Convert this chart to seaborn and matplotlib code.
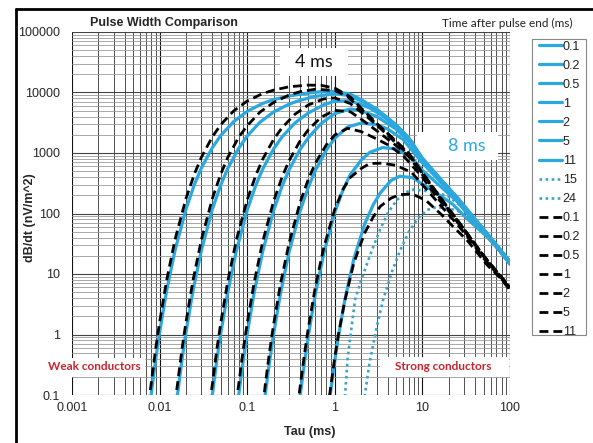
import matplotlib
matplotlib.use("Agg")
import matplotlib.pyplot as plt
import seaborn as sns
import numpy as np
from matplotlib.lines import Line2D
from matplotlib.patches import Rectangle
from matplotlib.ticker import LogLocator, NullFormatter

sns.set_style("white")
plt.rcParams['font.family'] = ['Liberation Sans', 'DejaVu Sans']

# ---------------- data ----------------
x_ticks = [0.001, 0.01, 0.1, 1, 10, 100]
x_tick_labels = ["0.001", "0.01", "0.1", "1", "10", "100"]
y_ticks = [0.1, 1, 10, 100, 1000, 10000, 100000]
y_tick_labels = ["0.1", "1", "10", "100", "1000", "10000", "100000"]

# 8 ms pulse (blue)
tau_b01 = [0.0074, 0.008, 0.009, 0.01, 0.012, 0.015, 0.02, 0.025, 0.03, 0.04, 0.05, 0.07, 0.1, 0.15, 0.2, 0.3, 0.5, 0.7, 1, 1.5, 2, 3, 5, 7, 10, 15, 20, 30, 50, 70, 100]
val_b01 = [0.039, 0.10, 0.38, 1.08, 5.2, 24.6, 118, 303, 564, 1226, 1953, 3300, 4875, 6600, 7625, 8770, 9780, 10310, 10460, 9390, 7630, 5330, 2940, 1777, 822, 416, 261, 124, 55, 30, 16]
tau_b02 = [0.0148, 0.016, 0.018, 0.02, 0.024, 0.03, 0.04, 0.05, 0.06, 0.08, 0.1, 0.14, 0.2, 0.3, 0.4, 0.6, 1, 1.4, 2, 3, 4, 6, 10, 20, 50, 100]
val_b02 = [0.039, 0.10, 0.38, 1.08, 5.2, 24.6, 118, 298, 555, 1202, 1908, 3236, 4758, 6408, 7437, 8630, 9530, 9000, 7280, 5160, 3820, 2230, 814, 260, 55, 16]
tau_b05 = [0.037, 0.04, 0.045, 0.05, 0.06, 0.075, 0.1, 0.125, 0.15, 0.2, 0.25, 0.35, 0.5, 0.75, 1, 1.5, 2.5, 3.5, 5, 7.5, 10, 15, 25, 50, 100]
val_b05 = [0.039, 0.10, 0.38, 1.06, 5.0, 23.8, 114, 289, 540, 1164, 1846, 3132, 4600, 6270, 7190, 7310, 5550, 4110, 2730, 1550, 792, 407, 186, 54.5, 16]
tau_b1 = [0.074, 0.08, 0.09, 0.1, 0.12, 0.15, 0.2, 0.25, 0.3, 0.4, 0.5, 0.7, 1, 1.5, 2, 3, 5, 7, 10, 15, 20, 30, 50, 100]
val_b1 = [0.038, 0.10, 0.37, 1.03, 4.9, 23.3, 111, 282, 524, 1135, 1800, 3080, 4490, 5340, 5000, 4020, 2490, 1570, 755, 394, 251, 121, 54, 15.8]
tau_b2 = [0.148, 0.16, 0.18, 0.2, 0.24, 0.3, 0.4, 0.5, 0.6, 0.8, 1, 1.4, 2, 3, 4, 6, 10, 14, 20, 30, 40, 60, 100]
val_b2 = [0.037, 0.097, 0.36, 1.01, 4.8, 22.7, 108, 275, 516, 1116, 1755, 2690, 3120, 2940, 2500, 1680, 688, 411, 239, 117, 76, 38.8, 15.7]
tau_b5 = [0.36, 0.4, 0.45, 0.5, 0.6, 0.75, 1, 1.25, 1.5, 2, 2.5, 3.5, 5, 7.5, 10, 15, 25, 35, 50, 100]
val_b5 = [0.03, 0.092, 0.34, 0.98, 4.7, 22, 105, 252, 437, 763, 1022, 1227, 1170, 854, 519, 307, 158, 87, 50, 15.3]
tau_b11 = [0.81, 0.9, 1, 1.1, 1.3, 1.65, 2.2, 2.75, 3.3, 4.4, 5.5, 7.7, 11, 16.5, 22, 33, 55, 77, 100]
val_b11 = [0.03, 0.12, 0.37, 0.93, 3.7, 17.8, 68, 140, 218, 353, 412, 392, 281, 192, 144, 80, 41, 23.6, 14.4]
tau_b15 = [1.15, 1.31, 1.4, 1.7, 2, 2.66, 3.3, 4, 5.1, 6.5, 8, 10, 15, 20, 30, 50, 70, 100]
val_b15 = [0.03, 0.1, 0.4, 3.7, 8, 25, 55, 100, 167, 225, 250, 240, 220, 190, 120, 52, 29, 15]
tau_b24 = [2.0, 2.2, 2.5, 3, 3.55, 4.5, 5.6, 7, 9, 11.4, 14, 18, 25, 35, 50, 70, 100]
val_b24 = [0.03, 0.1, 0.35, 1.3, 3.7, 11, 25, 50, 85, 115, 125, 125, 112, 80, 48, 27, 14.5]

# 4 ms pulse (black)
tau_k01 = [0.0069, 0.0077, 0.008, 0.009, 0.01, 0.012, 0.015, 0.02, 0.025, 0.03, 0.04, 0.05, 0.07, 0.1, 0.15, 0.2, 0.3, 0.5, 0.7, 1, 1.5, 2, 3, 5, 7, 10, 15, 20, 30, 50, 70, 100]
val_k01 = [0.025, 0.1, 0.15, 0.57, 1.6, 7.7, 37, 177, 453, 850, 1850, 2950, 4960, 7220, 9610, 10940, 12430, 13260, 13110, 11830, 8450, 5530, 3100, 1570, 990, 475, 208, 119, 55, 20, 11, 6]
tau_k02 = [0.0139, 0.0154, 0.016, 0.018, 0.02, 0.024, 0.03, 0.04, 0.05, 0.06, 0.08, 0.1, 0.14, 0.2, 0.3, 0.4, 0.6, 1, 1.4, 2, 3, 4, 6, 10, 20, 50, 100]
val_k02 = [0.025, 0.1, 0.15, 0.57, 1.6, 7.7, 37, 177, 452, 845, 1830, 2820, 4750, 6830, 9080, 10310, 11330, 10780, 8570, 5280, 3000, 2100, 1210, 471, 119, 20, 6]
tau_k05 = [0.0347, 0.0385, 0.04, 0.045, 0.05, 0.06, 0.075, 0.1, 0.125, 0.15, 0.2, 0.25, 0.35, 0.5, 0.75, 1, 1.5, 2.5, 3.5, 5, 7.5, 10, 15, 25, 50, 100]
val_k05 = [0.025, 0.1, 0.15, 0.57, 1.58, 7.6, 36, 168, 424, 787, 1670, 2620, 4360, 6240, 7850, 8130, 6580, 3650, 2360, 1456, 845, 458, 203, 78, 19.8, 6]
tau_k1 = [0.069, 0.077, 0.08, 0.09, 0.1, 0.12, 0.15, 0.2, 0.25, 0.3, 0.4, 0.5, 0.7, 1, 1.5, 2, 3, 5, 7, 10, 15, 20, 30, 50, 100]
val_k1 = [0.025, 0.1, 0.15, 0.56, 1.53, 7.2, 34, 159, 400, 743, 1570, 2440, 3915, 5070, 4810, 3625, 2340, 1330, 874, 437, 197, 114, 53, 19.6, 5.9]
tau_k2 = [0.14, 0.155, 0.16, 0.18, 0.2, 0.24, 0.3, 0.4, 0.5, 0.6, 0.8, 1, 1.4, 2, 3, 4, 6, 10, 14, 20, 30, 40, 60, 100]
val_k2 = [0.023, 0.09, 0.14, 0.52, 1.45, 6.9, 32, 150, 373, 677, 1364, 1984, 2560, 2260, 1710, 1375, 914, 398, 201, 109, 51.6, 30.5, 14, 5.9]
tau_k5 = [0.35, 0.385, 0.4, 0.45, 0.5, 0.6, 0.75, 1, 1.25, 1.5, 2, 2.5, 3.5, 5, 7.5, 10, 15, 25, 35, 50, 100]
val_k5 = [0.022, 0.083, 0.13, 0.47, 1.32, 6.15, 27.8, 118, 256, 393, 553, 671, 679, 624, 480, 300, 153, 66, 36.7, 18.2, 5.7]
tau_k11 = [0.77, 0.85, 0.9, 1, 1.1, 1.3, 1.65, 2.2, 2.75, 3.3, 4.4, 5.5, 7.7, 11, 16.5, 22, 33, 55, 77, 100]
val_k11 = [0.02, 0.075, 0.14, 0.42, 1.0, 3.6, 15.3, 48, 88, 131, 180, 205, 210, 164, 96, 62.5, 35, 14, 8.7, 5.4]

blue_labels = ["0.1", "0.2", "0.5", "1", "2", "5", "11", "15", "24"]
black_labels = ["0.1", "0.2", "0.5", "1", "2", "5", "11"]

blue_taus = [tau_b01, tau_b02, tau_b05, tau_b1, tau_b2, tau_b5, tau_b11, tau_b15, tau_b24]
blue_vals = [val_b01, val_b02, val_b05, val_b1, val_b2, val_b5, val_b11, val_b15, val_b24]
black_taus = [tau_k01, tau_k02, tau_k05, tau_k1, tau_k2, tau_k5, tau_k11]
black_vals = [val_k01, val_k02, val_k05, val_k1, val_k2, val_k5, val_k11]

# ---------------- figure ----------------
W, H = 593, 443
fig = plt.figure(figsize=(W / 100, H / 100), dpi=100)
ax = fig.add_axes([72 / W, 1 - 395 / H, (510 - 72) / W, (395 - 32) / H])
ax.set_xscale('log')
ax.set_yscale('log')

BLUE = '#2aa8df'
DOTBLUE = '#3aa3cc'

for lab, t, v in zip(blue_labels, blue_taus, blue_vals):
    dotted = lab in ("15", "24")
    sns.lineplot(x=t, y=v, ax=ax, color=DOTBLUE if dotted else BLUE,
                 lw=1.9 if dotted else 2.3,
                 linestyle=(0, (1, 1.3)) if dotted else '-',
                 label=lab, estimator=None, sort=False, zorder=3)
for lab, t, v in zip(black_labels, black_taus, black_vals):
    sns.lineplot(x=t, y=v, ax=ax, color='black', lw=2.0,
                 linestyle=(0, (3.2, 1.8)), label=lab,
                 estimator=None, sort=False, zorder=4)

ax.set_xlim(0.001, 100)
ax.set_ylim(0.1, 100000)
ax.set_xticks(x_ticks, x_tick_labels)
ax.set_yticks(y_ticks, y_tick_labels)
ax.xaxis.set_minor_locator(LogLocator(base=10, subs=np.arange(2, 10), numticks=50))
ax.yaxis.set_minor_locator(LogLocator(base=10, subs=np.arange(2, 10), numticks=50))
ax.xaxis.set_minor_formatter(NullFormatter())
ax.yaxis.set_minor_formatter(NullFormatter())
ax.tick_params(which='both', length=0)
ax.tick_params(axis='y', labelsize=9, pad=8.5)
ax.tick_params(axis='x', labelsize=9, pad=5)
ax.set_xlabel('')
ax.set_ylabel('')
ax.set_axisbelow(True)
ax.grid(which='major', axis='x', color='#111111', lw=0.8)
ax.grid(which='minor', axis='x', color='#333333', lw=0.6)
ax.grid(which='major', axis='y', color='#444444', lw=0.8)
ax.grid(which='minor', axis='y', color='#9a9a9a', lw=0.6)
for s in ax.spines.values():
    s.set_visible(False)

# white label boxes inside the plot
def white_box(x0, y0, x1, y1):
    ax.add_patch(Rectangle((x0 / W, 1 - y1 / H), (x1 - x0) / W, (y1 - y0) / H,
                           transform=fig.transFigure, fc='white', ec='none', zorder=1.5))

white_box(280, 48, 348, 76)
white_box(417, 132, 498, 160)
white_box(45, 358, 145, 377)
white_box(380, 357, 509, 377)

RED = '#c8242b'
fig.text(314 / W, 1 - 62 / H, '4 ms', fontsize=13, family=['Lato', 'DejaVu Sans'], ha='center', va='center', color='#111111', zorder=5)
fig.text(467 / W, 1 - 146 / H, '8 ms', fontsize=13, family=['Lato', 'DejaVu Sans'], ha='center', va='center', color=BLUE, zorder=5)
fig.text(94 / W, 1 - 367 / H, 'Weak conductors', fontsize=8.5, fontweight='bold', family=['Lato', 'DejaVu Sans'], ha='center', va='center', color=RED, zorder=5)
fig.text(443 / W, 1 - 367 / H, 'Strong conductors', fontsize=8.5, fontweight='bold', family=['Lato', 'DejaVu Sans'], ha='center', va='center', color=RED, zorder=5)

fig.text(90 / W, 1 - 23 / H, 'Pulse Width Comparison', fontsize=9, fontweight='bold', ha='left', va='center')
fig.text(573 / W, 1 - 23 / H, 'Time after pulse end (ms)', fontsize=8.5, family=['Lato', 'DejaVu Sans'], ha='right', va='center', color='#222222')
fig.text(310 / W, 1 - 432 / H, 'Tau (ms)', fontsize=9, fontweight='bold', ha='center', va='center')
fig.text(30 / W, 1 - 218 / H, 'dB/dt (nV/m^2)', fontsize=9, fontweight='bold', ha='center', va='center', rotation=90)

# legend: hand-drawn frame, frameless legend inside it
fig.add_artist(Rectangle((532 / W, 1 - 335 / H), (586 - 532) / W, (335 - 39) / H,
                         transform=fig.transFigure, fill=False, ec='#888888', lw=0.8))
leg = ax.legend(loc='upper left', bbox_to_anchor=(539 / W, 1 - 40.5 / H), bbox_transform=fig.transFigure,
                frameon=False, fontsize=9, handlelength=1.8, handletextpad=0.1,
                labelspacing=0.565, borderpad=0, borderaxespad=0)
for txt in leg.get_texts():
    txt.set_color('#222222')

# outer frame (left and top edges)
fig.add_artist(Line2D([16 / W, 16 / W], [0, 1 - 9 / H], transform=fig.transFigure, color='black', lw=2))
fig.add_artist(Line2D([16 / W, 1], [1 - 9 / H, 1 - 9 / H], transform=fig.transFigure, color='black', lw=2))

fig.savefig('out.png', dpi=100)
